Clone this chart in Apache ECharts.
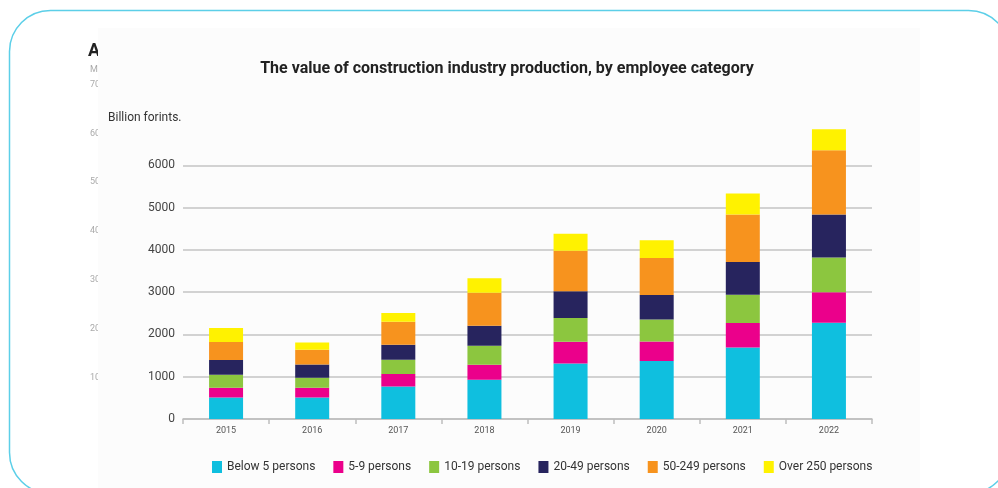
<!DOCTYPE html>
<html>
<head>
<meta charset="utf-8">
<script src="https://cdn.jsdelivr.net/npm/echarts@6/dist/echarts.min.js"></script>
<style>
html,body{margin:0;padding:0;background:#ffffff;}
#chart{width:998px;height:488px;}
</style>
</head>
<body>
<div id="chart"></div>
<script>
const categories = ['2015','2016','2017','2018','2019','2020','2021','2022'];
const seriesNames = ['Below 5 persons','5-9 persons','10-19 persons','20-49 persons','50-249 persons','Over 250 persons'];
const below5   = [511, 511, 771, 929, 1315, 1371, 1693, 2277];
const p5to9    = [229, 229, 293, 355, 510, 464, 577, 723];
const p10to19  = [307, 236, 338, 448, 564, 517, 668, 822];
const p20to49  = [348, 315, 355, 474, 630, 582, 773, 1012];
const p50to249 = [425, 347, 543, 782, 957, 876, 1123, 1524];
const over250  = [331, 173, 206, 339, 403, 418, 498, 497];
const ghostLabels = ['A','M','70','60','50','40','30','20','10'];

const colors = ['#0fbfdf','#eb008b','#8cc63f','#27245e','#f7931e','#fff200'];
const values = [below5, p5to9, p10to19, p20to49, p50to249, over250];

const chart = echarts.init(document.getElementById('chart'), null, {renderer:'canvas'});

const ghostY = [48, 71, 86, 135, 183, 232, 281, 330, 379];
const ghostEls = ghostLabels.map((t, i) => ({
  type: 'text', left: i === 0 ? 88 : 90, top: ghostY[i] - 6, z: -20,
  style: {
    text: t,
    fontSize: i === 0 ? 18 : 9,
    fontWeight: i === 0 ? 'bold' : 'normal',
    fill: i === 0 ? '#222' : '#aaa',
    fontFamily: 'Roboto'
  }
}));

const option = {
  animation: false,
  backgroundColor: '#ffffff',
  color: colors,
  title: {
    text: 'The value of construction industry production, by employee category',
    left: 502, top: 56, textAlign: 'center',
    textStyle: {fontFamily: 'Roboto', fontWeight: 'bold', fontSize: 16, color: '#222'}
  },
  graphic: ghostEls.concat([
    {type:'rect', z: -10, shape:{x:98, y:28, width:822, height:470}, style:{fill:'#fcfcfc'}},
    {type:'rect', z: 10, shape:{x:9.5, y:10.5, width:1000, height:483, r:41}, style:{fill:'none', stroke:'#5ccfe8', lineWidth:1.5}},
    {type:'text', z: 10, left: 108, top: 112, style:{text:'Billion forints.', fontSize: 12, fill:'#333', fontFamily:'Roboto'}}
  ]),
  legend: {
    left: 207, top: 456,
    itemWidth: 10, itemHeight: 12, itemGap: 18,
    icon: 'rect',
    textStyle: {fontFamily: 'Roboto', fontSize: 12, color: '#333'},
    data: seriesNames
  },
  grid: {left: 183, right: 126, top: 123, bottom: 69, containLabel: false},
  xAxis: {
    type: 'category',
    data: categories,
    axisLine: {lineStyle: {color: '#bdbdbd', width: 1.5}},
    axisTick: {show: true, length: 5, lineStyle: {color: '#bdbdbd', width: 1.5}},
    axisLabel: {fontFamily: 'Roboto', fontSize: 9, color: '#555', margin: 7}
  },
  yAxis: {
    type: 'value',
    min: 0, max: 7000, interval: 1000,
    axisLine: {show: false},
    axisTick: {show: false},
    axisLabel: {fontFamily: 'Roboto', fontSize: 12, color: '#444', margin: 8, showMaxLabel: false,
                formatter: v => String(v)},
    splitLine: {lineStyle: {color: ['#c4c4c4','#c4c4c4','#c4c4c4','#c4c4c4','#c4c4c4','#c4c4c4','#c4c4c4','rgba(0,0,0,0)'], width: 1.5}}
  },
  series: seriesNames.map((name, i) => ({
    name: name,
    type: 'bar',
    stack: 'total',
    barWidth: 34,
    data: values[i],
    itemStyle: {color: colors[i]}
  }))
};
chart.setOption(option);
</script>
</body>
</html>
